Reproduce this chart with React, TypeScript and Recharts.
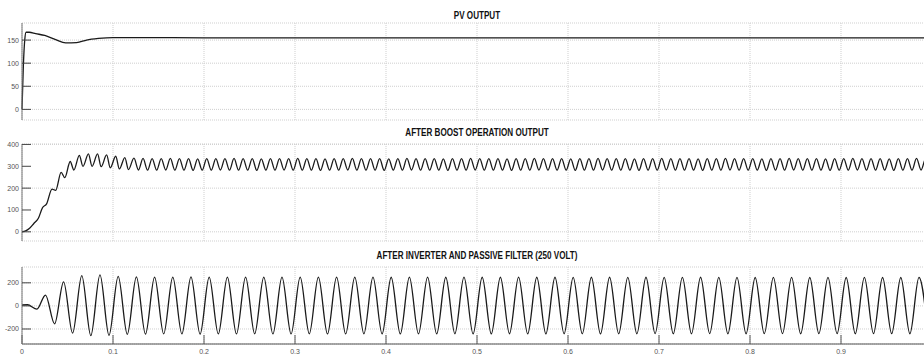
import React from 'react';
import { LineChart, Line, XAxis, YAxis, CartesianGrid } from 'recharts';

// time axis (s)
const timeTicks = [0, 0.1, 0.2, 0.3, 0.4, 0.5, 0.6, 0.7, 0.8, 0.9];

// PV OUTPUT
const pvTicks = [0, 50, 100, 150];
const pvTime = [0, 0.0015, 0.003, 0.0045, 0.008, 0.015, 0.025, 0.037, 0.048, 0.06, 0.071, 0.084, 0.1, 0.13, 0.2, 0.4, 0.6, 0.8, 1.0];
const pvVolt = [0, 95, 150, 167, 167, 164, 160, 151, 144, 144.5, 150, 153.5, 155.5, 155.5, 155, 155, 155, 155, 155];

// AFTER BOOST OPERATION OUTPUT
const boostTicks = [0, 100, 200, 300, 400];
const boostRiseTime = [0, 0.004, 0.008, 0.013, 0.018, 0.0225, 0.027, 0.033, 0.037, 0.043, 0.047, 0.053, 0.057, 0.063, 0.067, 0.073, 0.077, 0.083, 0.087, 0.093, 0.097, 0.103, 0.107, 0.113, 0.117];
const boostRiseVolt = [0, 4, 15, 38, 62, 110, 128, 195, 190, 272, 248, 322, 283, 350, 300, 357, 300, 357, 298, 352, 293, 346, 288, 340, 285];
// ripple extrema from 0.123 s, one peak + one trough every 10 ms
const boostRippleStart = 0.123;
const boostRipplePeriod = 0.01;
const boostRipplePeaks = [
  337, 336, 335, 335, 336, 335, 335, 334, 335, 335,
  335, 336, 335, 335, 334, 335, 335, 335, 336, 335,
  335, 334, 335, 335, 336, 335, 335, 335, 334, 335,
  336, 335, 335, 335, 334, 335, 335, 336, 335, 335,
  335, 334, 335, 335, 336, 335, 335, 335, 334, 335,
  335, 336, 335, 335, 335, 334, 335, 335, 336, 335,
  335, 335, 334, 335, 335, 336, 335, 335, 335, 334,
  335, 335, 336, 335, 335, 335, 334, 335, 335, 336,
  335, 335, 335, 334, 335, 335, 336, 335,
];
const boostRippleTroughs = [
  283, 282, 282, 283, 282, 282, 281, 282, 282, 283,
  282, 282, 282, 281, 282, 282, 283, 282, 282, 282,
  281, 282, 282, 283, 282, 282, 282, 281, 282, 282,
  283, 282, 282, 282, 281, 282, 282, 283, 282, 282,
  282, 281, 282, 282, 283, 282, 282, 282, 281, 282,
  282, 283, 282, 282, 282, 281, 282, 282, 283, 282,
  282, 282, 281, 282, 282, 283, 282, 282, 282, 281,
  282, 282, 283, 282, 282, 282, 281, 282, 282, 283,
  282, 282, 282, 281, 282, 282, 283, 282,
];

// AFTER INVERTER AND PASSIVE FILTER (250 VOLT)
const inverterTicks = [-200, 0, 200];
const inverterStartTime = [0, 0.006, 0.0164, 0.0258, 0.0358, 0.0457, 0.0556, 0.0657, 0.0756, 0.0857, 0.0956];
const inverterStartVolt = [8, 10, -28, 94, -155, 209, -236, 262, -258, 268, -255];
// 50 Hz cycles from 0.1057 s: peak, then trough half a period later
const inverterCycleStart = 0.1057;
const inverterPeriod = 0.02;
const inverterPeaks = [
  255, 251, 250, 250, 251, 250, 249, 250, 250, 249,
  250, 249, 249, 250, 249, 248, 249, 249, 248, 249,
  248, 248, 249, 248, 248, 247, 248, 248, 247, 248,
  247, 247, 248, 247, 247, 246, 247, 247, 246, 247,
  246, 247, 246, 246, 247,
];
const inverterTroughs = [
  -246, -244, -243, -243, -244, -243, -243, -242, -243, -243,
  -242, -243, -243, -242, -242, -243, -242, -242, -241, -242,
  -242, -241, -242, -242, -241, -241, -242, -241, -241, -240,
  -241, -241, -240, -241, -241, -240, -240, -241, -240, -240,
  -241, -240, -240, -241, -240,
];

const zip = (time: number[], volt: number[]) => time.map((t, i) => ({ t, v: volt[i] }));

const ripple = (start: number, period: number, peaks: number[], troughs: number[]) =>
  peaks.flatMap((p, i) => [
    { t: +(start + i * period).toFixed(4), v: p },
    { t: +(start + i * period + period / 2).toFixed(4), v: troughs[i] },
  ]);

const pvData = zip(pvTime, pvVolt);
const boostData = [
  ...zip(boostRiseTime, boostRiseVolt),
  ...ripple(boostRippleStart, boostRipplePeriod, boostRipplePeaks, boostRippleTroughs),
];
const inverterData = [
  ...zip(inverterStartTime, inverterStartVolt),
  ...ripple(inverterCycleStart, inverterPeriod, inverterPeaks, inverterTroughs),
];

const font = '"Liberation Sans Narrow", "Liberation Sans", Arial, sans-serif';
const tickStyle = { fill: '#555', fontSize: 7, fontFamily: font };

type PanelProps = {
  title: string;
  titleTop: number;
  top: number;
  height: number;
  marginTop: number;
  marginBottom: number;
  data: { t: number; v: number }[];
  domain: [number, number];
  yTicks: number[];
  showTimeLabels?: boolean;
};

const Panel = ({ title, titleTop, top, height, marginTop, marginBottom, data, domain, yTicks, showTimeLabels }: PanelProps) => (
  <>
    <div
      style={{
        position: 'absolute',
        left: 277,
        width: 400,
        top: titleTop,
        textAlign: 'center',
        fontFamily: font,
        fontWeight: 'bold',
        fontSize: 10,
        lineHeight: '10px',
        color: '#111',
        transform: 'scaleX(0.81)',
        transformOrigin: 'center',
      }}
    >
      {title}
    </div>
    <div style={{ position: 'absolute', left: 0, top }}>
      <LineChart width={940} height={height} data={data} margin={{ top: marginTop, right: 8, bottom: marginBottom, left: 0 }}>
        <CartesianGrid stroke="#cfcfcf" strokeDasharray="1 1" />
        <XAxis
          xAxisId="top"
          orientation="top"
          type="number"
          dataKey="t"
          domain={[0, 1]}
          ticks={timeTicks}
          height={0}
          tickSize={-9}
          tickFormatter={() => ''}
          axisLine={{ stroke: '#999', strokeWidth: 1.5 }}
          tickLine={{ stroke: '#555' }}
        />
        <XAxis
          type="number"
          dataKey="t"
          domain={[0, 1]}
          ticks={timeTicks}
          height={showTimeLabels ? 16 : 0}
          tickSize={-9}
          tickMargin={14}
          tick={tickStyle}
          tickFormatter={(x: number) => (showTimeLabels ? String(x) : '')}
          axisLine={{ stroke: '#555' }}
          tickLine={{ stroke: '#555' }}
        />
        <YAxis
          type="number"
          domain={domain}
          ticks={yTicks}
          width={22}
          tickSize={-9}
          tickMargin={12}
          tick={tickStyle}
          axisLine={{ stroke: '#777' }}
          tickLine={{ stroke: '#444' }}
          allowDataOverflow
        />
        <Line type="monotone" dataKey="v" stroke="#1a1a1a" strokeWidth={1.3} dot={false} isAnimationActive={false} />
      </LineChart>
    </div>
  </>
);

export default function App() {
  return (
    <div style={{ position: 'absolute', left: 0, top: 0, width: 924, height: 360, overflow: 'hidden', background: '#fff' }}>
      <Panel title="PV OUTPUT" titleTop={10.5} top={0} height={125} marginTop={23} marginBottom={5} data={pvData} domain={[-23, 187]} yTicks={pvTicks} />
      <Panel
        title="AFTER BOOST OPERATION OUTPUT"
        titleTop={128}
        top={125}
        height={121}
        marginTop={19}
        marginBottom={5}
        data={boostData}
        domain={[-42, 402]}
        yTicks={boostTicks}
      />
      <Panel
        title="AFTER INVERTER AND PASSIVE FILTER (250 VOLT)"
        titleTop={250.5}
        top={246}
        height={114}
        marginTop={21}
        marginBottom={0}
        data={inverterData}
        domain={[-330, 337]}
        yTicks={inverterTicks}
        showTimeLabels
      />
    </div>
  );
}
